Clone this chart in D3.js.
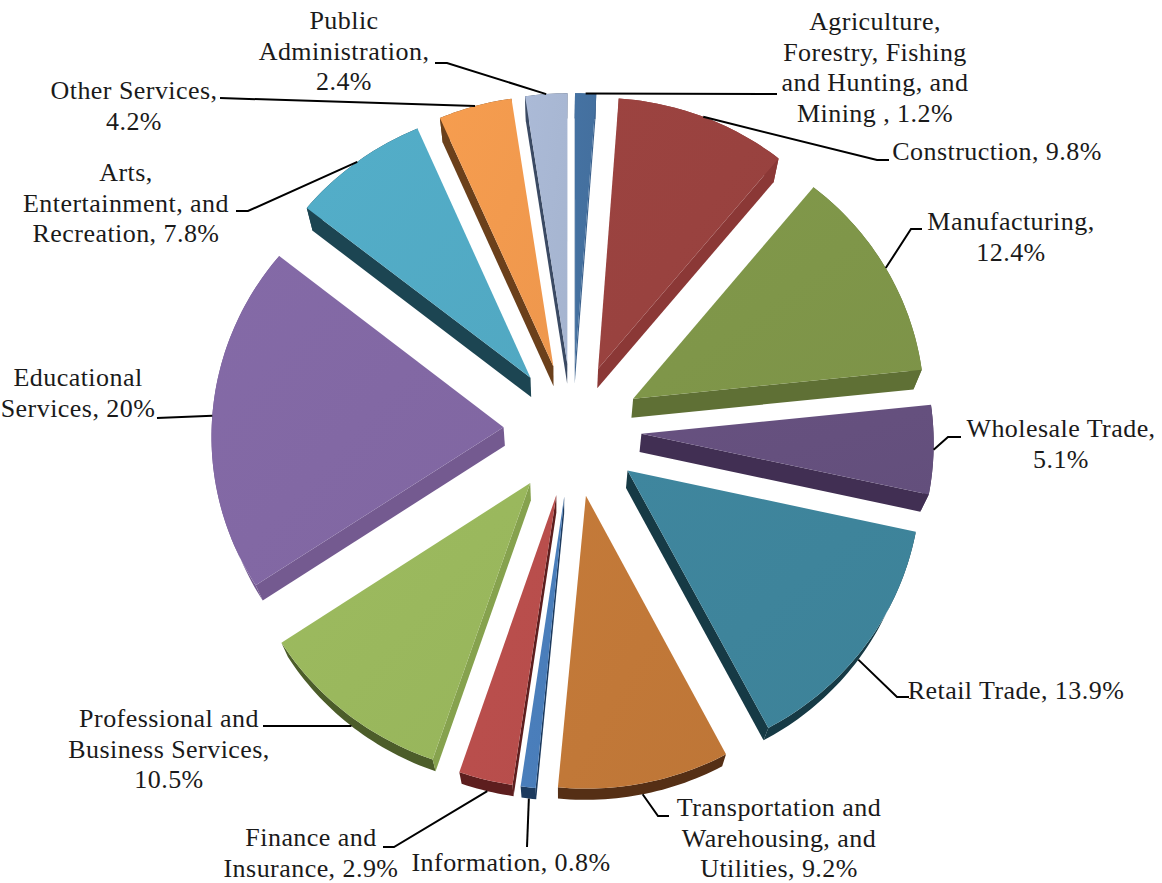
<!DOCTYPE html>
<html>
<head>
<meta charset="utf-8">
<title>Employment by industry</title>
<script src="https://cdn.jsdelivr.net/npm/d3@7/dist/d3.min.js"></script>
<style>
  html, body { margin: 0; padding: 0; background: #fff; }
  svg { display: block; }
  text { font-family: "Liberation Serif", serif; font-size: 26px; letter-spacing: 0.45px; fill: #1a1a1a; text-anchor: middle; }
</style>
</head>
<body>
<svg id="chart" width="1162" height="883"></svg>
<script>
// Industries in clockwise order from twelve o'clock, with their shares in percent.
const categories = [
  "Agriculture", "Construction", "Manufacturing", "Wholesale Trade", "Retail Trade",
  "Transportation", "Information", "Finance", "Professional", "Educational",
  "Arts", "Other", "Public Administration"
];
const shares = [1.2, 9.8, 12.4, 5.1, 13.9, 9.2, 0.8, 2.9, 10.5, 20, 7.8, 4.2, 2.4];

const labelLines = [
  ["Agriculture,", "Forestry, Fishing", "and Hunting, and", "Mining , 1.2%"],
  ["Construction, 9.8%"],
  ["Manufacturing,", "12.4%"],
  ["Wholesale Trade,", "5.1%"],
  ["Retail Trade, 13.9%"],
  ["Transportation and", "Warehousing, and", "Utilities, 9.2%"],
  ["Information, 0.8%"],
  ["Finance and", "Insurance, 2.9%"],
  ["Professional and", "Business Services,", "10.5%"],
  ["Educational", "Services, 20%"],
  ["Arts,", "Entertainment, and", "Recreation, 7.8%"],
  ["Other Services,", "4.2%"],
  ["Public", "Administration,", "2.4%"]
];

// Face, radial wall and rim colours for each slice.
const faceColors = ["#44709f", "#99423f", "#7f9649", "#65507e", "#3e849b", "#c17838", "#4a7ebb",
                    "#b94e4c", "#9ab85d", "#8268a4", "#52abc5", "#f29a4e", "#a8b7d3"];
const wallColors = ["#3a608c", "#8b3836", "#5f7035", "#412f53", "#163a45", "#552f15", "#1c3a5e",
                    "#5d1e1e", "#86a24e", "#745a90", "#1c4552", "#6b401b", "#3b4a63"];
const rimColors  = ["#3a608c", "#8b3836", "#5f7035", "#412f53", "#163a45", "#552f15", "#1c3a5e",
                    "#5d1e1e", "#4c5d2a", "#745a90", "#1c4552", "#6b401b", "#3b4a63"];

// Label block centre and first baseline, followed by the leader's bend and end.
const labelAnchors = [
  [875, 30], [997, 160], [1011, 230], [1061, 437], [1016, 699], [779, 816], [511, 871],
  [311, 846], [169, 727], [78, 386], [126, 181], [134, 99], [344, 29]
];
const leaderTails = [
  [[777, 94]],
  [[877, 160], [889, 160]],
  [[911, 229], [922, 229]],
  [[948, 437], [961, 437]],
  [[897, 697], [909, 697]],
  [[658, 816], [669, 816]],
  [[527, 847]],
  [[394, 847], [383, 847]],
  [[263, 726]],
  [[157, 418]],
  [[248, 211], [236, 211]],
  [[220, 98]],
  [[447, 63], [435, 63]]
];

// Scene geometry: tilted plane with perspective, walls receding toward a vanishing point.
const cx = 572.5, cy = 430, radius = 292, explode = 69;
const tilt = 0.964, persp = 9.2e-5;
const vanish = [560, 1350], depthX = 0.023, depthY = 0.02;
const lineSpacing = 30.5;

const project = ([x, y]) => {
  const w = 1 - persp * y;
  return [cx + x / w, cy + y * tilt / w];
};
const sink = ([x, y]) => [
  x + depthX * (vanish[0] - x),
  y + depthY * (vanish[1] - y)
];
const polar = (r, a) => [r * Math.sin(a), -r * Math.cos(a)];

const pie = d3.pie().sort(null).value(d => d)(shares);
const path = d3.line();
const svg = d3.select("#chart");
const defs = svg.append("defs");

const slices = pie.map((d, i) => {
  const mid = (d.startAngle + d.endAngle) / 2;
  const apexPlane = polar(explode, mid);
  const onPlane = (r, a) => {
    const p = polar(r, a);
    return project([apexPlane[0] + p[0], apexPlane[1] + p[1]]);
  };
  const steps = Math.max(4, Math.ceil((d.endAngle - d.startAngle) / 0.02));
  const arc = d3.range(steps + 1).map(k =>
    onPlane(radius, d.startAngle + (d.endAngle - d.startAngle) * k / steps));
  return { i, mid, apex: onPlane(0, 0), arc, anchor: onPlane(radius, mid) };
});

slices.forEach(s => {
  const g = svg.append("g").attr("class", "slice").attr("data-name", categories[s.i]);
  const top = [s.apex, ...s.arc];
  const winding = Math.sign(d3.polygonArea(top));

  // Outer rim, then whichever radial walls face the viewer.
  g.append("path")
    .attr("d", path([...s.arc, ...s.arc.map(sink).reverse()]) + "Z")
    .attr("fill", rimColors[s.i]);

  const first = s.arc[0], last = s.arc[s.arc.length - 1];
  [[s.apex, first], [last, s.apex]].forEach(([a, b]) => {
    const quad = [a, b, sink(b), sink(a)];
    if (Math.sign(d3.polygonArea(quad)) !== winding) {
      g.append("path").attr("d", path(quad) + "Z").attr("fill", wallColors[s.i]);
    }
  });

  // Top face with a soft sheen across the slice.
  const base = d3.color(faceColors[s.i]);
  const gradId = "face" + s.i;
  const grad = defs.append("linearGradient").attr("id", gradId)
    .attr("gradientUnits", "objectBoundingBox")
    .attr("x1", 0).attr("y1", 0).attr("x2", 1).attr("y2", 1);
  grad.append("stop").attr("offset", 0).attr("stop-color", base.brighter(0.05));
  grad.append("stop").attr("offset", 1).attr("stop-color", base.darker(0.05));
  g.append("path").attr("d", path(top) + "Z").attr("fill", `url(#${gradId})`);
});

// Leaders start on the slice's outer edge; lower slices show the rim, so use its lower edge.
slices.forEach(s => {
  const start = Math.cos(s.mid) < -0.3 ? sink(s.anchor) : s.anchor;
  svg.append("path")
    .attr("d", path([start, ...leaderTails[s.i]]))
    .attr("fill", "none").attr("stroke", "#000").attr("stroke-width", 2);
});

// Category labels, one text element per line.
labelLines.forEach((lines, i) => {
  const [x, y] = labelAnchors[i];
  lines.forEach((line, k) => {
    svg.append("text").attr("x", x).attr("y", y + k * lineSpacing).text(line);
  });
});
</script>
</body>
</html>
